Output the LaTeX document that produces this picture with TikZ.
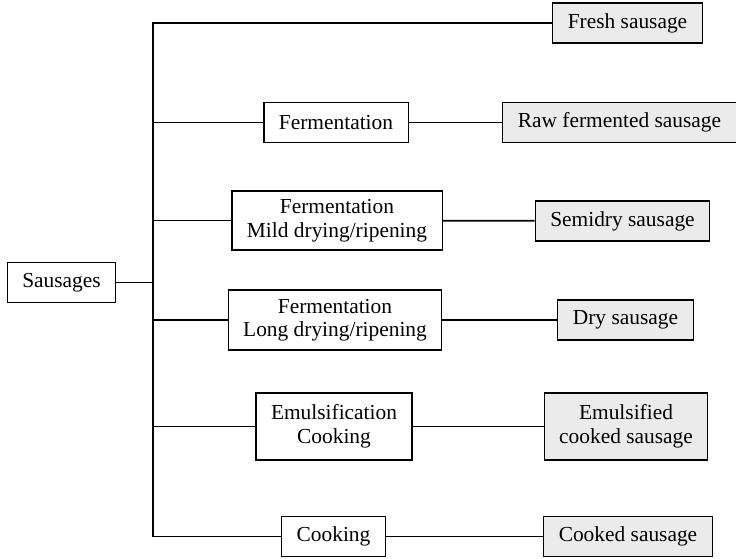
\documentclass[tikz,border=0pt]{standalone}
\usepackage{fontspec}
\setmainfont{Liberation Serif}
\usepackage{tikz}
\usetikzlibrary{positioning, calc}
\definecolor{prodgray}{RGB}{235,235,235}
\tikzset{
    block/.style = {rectangle, draw, line width=1.1pt, fill=white, align=center, inner xsep=15pt, inner ysep=4pt, minimum height=40pt, font=\fontsize{21.4}{23.5}\selectfont},
    product/.style = {block, fill=prodgray},
    line/.style = {draw, line width=1.7pt},
    thinline/.style = {draw, line width=1.1pt}
}

\begin{document}
\begin{tikzpicture}[x=1pt, y=-1pt]
        \useasboundingbox (0,0) rectangle (736,559);
        % Nodes
        \node [block] (sausages) at (61.5,282.5) {Sausages};
        \coordinate (bus) at (153,0);

        \node [product] (fresh) at (627.5,23) {Fresh sausage};

        \node [block] (ferm) at (336,122.5) {Fermentation};
        \node [product] (raw) at (619.5,122.5) {Raw fermented sausage};

        \node [block, minimum height=59pt] (mild) at (337,220.5) {Fermentation\\Mild drying/ripening};
        \node [product] (semidry) at (622.5,221) {Semidry sausage};

        \node [block, minimum height=60pt] (long) at (335,320) {Fermentation\\Long drying/ripening};
        \node [product] (dry) at (625.5,320) {Dry sausage};

        \node [block, minimum height=67pt] (emuls) at (334,426.5) {Emulsification\\Cooking};
        \node [product, minimum height=67pt] (emulsified) at (626,426.5) {Emulsified\\cooked sausage};

        \node [block] (cooking) at (333.5,536.5) {Cooking};
        \node [product] (cooked) at (628,536.5) {Cooked sausage};

        % Edges
        \path [line] (fresh.west) -- (fresh.west -| bus) -- (cooking.west -| bus) -- (cooking.west);
        \path [line] (sausages.east) -- (sausages.east -| bus);
        \path [line] (ferm.west) -- (ferm.west -| bus);
        \path [line] (mild.west) -- (mild.west -| bus);
        \path [line] (long.west) -- (long.west -| bus);
        \path [line] (emuls.west) -- (emuls.west -| bus);

        \path [line] (ferm) -- (raw);
        \path [line] (mild) -- (semidry);
        \path [line] (long) -- (dry);
        \path [line] (emuls) -- (emulsified);
        \path [thinline] (cooking) -- (cooked);
    \end{tikzpicture}
\end{document}
